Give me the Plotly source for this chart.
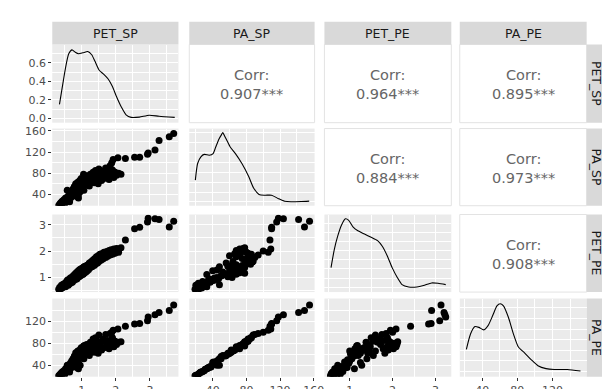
import plotly.graph_objects as go

W, H = 610, 389
VARS = ["PET_SP", "PA_SP", "PET_PE", "PA_PE"]

PET_SP = [3.70, 3.57, 3.27, 3.15, 2.95, 2.93, 2.70, 2.55, 2.28, 2.06, 1.92,
          0.32, 0.35, 0.38, 0.40, 0.42, 0.45, 0.47, 0.50, 0.52, 0.55, 0.57, 0.58, 0.60, 0.62, 0.64, 0.66, 0.68, 0.70,
          0.72, 0.74, 0.76, 0.78, 0.80, 0.82, 0.84, 0.86, 0.88, 0.90, 0.92, 0.94, 0.96, 0.98, 1.00, 1.02, 1.04, 1.06,
          1.08, 1.10, 1.12, 1.14, 0.85, 0.95, 1.05,
          1.16, 1.18, 1.20, 1.22, 1.25, 1.28, 1.30, 1.33, 1.36, 1.38, 1.40, 1.43, 1.46, 1.48, 1.50, 1.53, 1.56, 1.58,
          1.62, 1.65,
          1.70, 1.73, 1.76, 1.80, 1.83, 1.86, 1.90, 1.94, 1.98, 2.02, 2.08, 2.15, 1.88, 0.90]
PA_SP = [155, 149, 142, 124, 118, 116, 110, 110, 108, 109, 106,
         19, 22, 24, 20, 27, 25, 30, 23, 33, 28, 48, 35, 31, 38, 26, 42, 34, 45,
         37, 50, 41, 55, 44, 60, 47, 52, 63, 40, 58, 66, 50, 70, 55, 62, 68, 48,
         72, 58, 65, 75, 36, 45, 78,
         60, 68, 72, 56, 78, 64, 70, 82, 62, 75, 85, 68, 80, 60, 88, 72, 78, 66,
         84, 70,
         90, 76, 82, 68, 94, 78, 86, 72, 82, 76, 80, 78, 100, 33]
PET_PE = [3.13, 2.91, 3.20, 3.22, 3.24, 3.10, 2.90, 2.84, 2.42, 2.08, 1.95,
          0.55, 0.63, 0.57, 0.70, 0.60, 0.74, 0.66, 0.78, 0.65, 0.84, 0.72, 0.90, 0.70, 0.92, 0.76, 0.98, 0.80, 1.00,
          0.82, 1.05, 0.88, 1.10, 0.92, 1.16, 0.95, 1.20, 1.00, 1.25, 1.02, 1.30, 1.06, 1.33, 1.10, 1.36, 1.12, 1.40,
          1.18, 1.42, 1.20, 1.45, 0.94, 1.28, 1.16,
          1.25, 1.48, 1.30, 1.55, 1.38, 1.60, 1.40, 1.66, 1.45, 1.72, 1.50, 1.78, 1.55, 1.82, 1.60, 1.88, 1.65, 1.90,
          1.70, 1.95,
          1.75, 1.98, 1.80, 2.02, 1.85, 2.05, 1.88, 2.08, 1.92, 2.10, 1.95, 2.12, 2.00, 1.11]
PA_PE = [150, 140, 136, 132, 128, 121, 116, 115, 111, 106, 104,
         21, 23, 25, 22, 28, 27, 30, 24, 34, 29, 40, 36, 33, 37, 28, 44, 35, 48,
         38, 52, 46, 57, 42, 63, 50, 58, 66, 45, 60, 68, 56, 72, 58, 68, 70, 52,
         76, 62, 67, 78, 36, 40, 75,
         62, 74, 70, 58, 82, 66, 72, 88, 64, 78, 90, 70, 84, 62, 95, 75, 82, 68,
         88, 72,
         96, 78, 85, 70, 98, 80, 90, 74, 84, 78, 82, 83, 100, 34]
DATA = {"PET_SP": PET_SP, "PA_SP": PA_SP, "PET_PE": PET_PE, "PA_PE": PA_PE}

# ---- diagonal density curves ----
DENS_X = {
    "PET_SP": [0.342, 0.42, 0.516, 0.614, 0.71, 0.806, 0.903, 1.03, 1.174, 1.29, 1.386, 1.51, 1.647, 1.773,
               1.899, 2.014, 2.16, 2.30, 2.45, 2.69, 2.98, 3.27, 3.73],
    "PA_SP": [19.4, 22.1, 26, 30, 35.8, 40.5, 43.5, 47.5, 50.5, 52, 53.3, 56, 61, 67, 74.7, 82.6, 88.4, 95,
              102, 109.8, 117.6, 125.4, 133, 145, 154.6],
    "PET_PE": [0.564, 0.64, 0.716, 0.807, 0.90, 0.977, 1.076, 1.19, 1.344, 1.50, 1.65, 1.764, 1.88, 1.99,
               2.11, 2.22, 2.376, 2.566, 2.72, 2.91, 3.06, 3.24],
    "PA_PE": [22.1, 26.9, 31.8, 36.3, 41.9, 46.7, 52, 56.8, 60.5, 64.2, 69.8, 75.4, 81, 88.4, 95.9, 103.4,
              112.6, 121.9, 136.9, 151.7],
}
DENS_Y = {
    "PET_SP": [0.152, 0.328, 0.54, 0.70, 0.742, 0.717, 0.70, 0.71, 0.724, 0.689, 0.618, 0.522, 0.477, 0.427,
               0.346, 0.24, 0.124, 0.039, 0.011, 0.014, 0.035, 0.024, 0.011],
    "PA_SP": [0.0055, 0.0097, 0.0114, 0.0120, 0.0118, 0.0122, 0.0138, 0.0159, 0.0170, 0.0175, 0.0170, 0.0159,
              0.0138, 0.0122, 0.0097, 0.0065, 0.0036, 0.0019, 0.0017, 0.0017, 0.0009, 0.0002, 0.00005, 0.0001,
              0.0002],
    "PET_PE": [0.215, 0.412, 0.554, 0.68, 0.75, 0.733, 0.661, 0.618, 0.583, 0.547, 0.511, 0.447, 0.34, 0.215,
               0.107, 0.029, 0.002, 0.002, 0.018, 0.047, 0.043, 0.029],
    "PA_PE": [0.0052, 0.0089, 0.0106, 0.0104, 0.0098, 0.0108, 0.0132, 0.0155, 0.0160, 0.0155, 0.0128, 0.0089,
              0.0058, 0.0043, 0.0027, 0.0013, 0.0006, 0.0004, 0.0004, 0.00005],
}

# correlation labels (upper triangle, row-major)
CORR_LABELS = {(0, 1): "0.907***", (0, 2): "0.964***", (0, 3): "0.895***",
               (1, 2): "0.884***", (1, 3): "0.973***", (2, 3): "0.908***"}

# axis scales
VAR_RANGE_X = {"PET_SP": [0.13, 3.84], "PA_SP": [12.2, 161], "PET_PE": [0.41, 3.37], "PA_PE": [14.6, 158.7]}
VAR_RANGE_Y = {"PA_SP": [18.6, 164.4], "PET_PE": [0.444, 3.385], "PA_PE": [19.4, 161.6]}
MAJOR = {"PET_SP": [1, 2, 3], "PA_SP": [40, 80, 120, 160], "PET_PE": [1, 2, 3], "PA_PE": [40, 80, 120]}
MINOR = {"PET_SP": [0.5, 1.5, 2.5, 3.5], "PA_SP": [20, 60, 100, 140], "PET_PE": [0.5, 1.5, 2.5],
         "PA_PE": [20, 60, 100, 140]}
DENS_RANGE = {"PET_SP": [-0.046, 0.80], "PA_SP": [-0.00095, 0.01853], "PET_PE": [-0.053, 0.797],
              "PA_PE": [-0.0013, 0.01725]}
DENS_MAJOR = {"PET_SP": [0, 0.2, 0.4, 0.6], "PA_SP": [0, 0.005, 0.01, 0.015], "PET_PE": [0, 0.2, 0.4, 0.6],
              "PA_PE": [0, 0.005, 0.01, 0.015]}
DENS_MINOR = {"PET_SP": [0.1, 0.3, 0.5, 0.7], "PA_SP": [0.0025, 0.0075, 0.0125, 0.0175],
              "PET_PE": [0.1, 0.3, 0.5, 0.7], "PA_PE": [0.0025, 0.0075, 0.0125, 0.0175]}
DENS_TICKTEXT = ["0.0", "0.2", "0.4", "0.6"]

# layout geometry (pixels)
COLS_PX = [(45, 173.3), (184.3, 311.7), (321.7, 450.7), (459.3, 588.3)]
ROWS_PX = [(33.3, 113.3), (119.3, 198.3), (207.3, 286.7), (293.3, 373.3)]
STRIP_TOP = (10, 33.3)
STRIP_RIGHT = (588.3, 611)

FONT = "DejaVu Sans"
TICK_FONT = dict(family=FONT, size=11, color="#4D4D4D")


def fx(p):
    return p / W


def fy(p):
    return 1 - p / H


fig = go.Figure()
layout = dict(width=W, height=H, margin=dict(l=0, r=0, t=0, b=0), paper_bgcolor="white",
              plot_bgcolor="#EBEBEB", showlegend=False, font=dict(family=FONT), shapes=[], annotations=[])


def axis_cfg(domain, rng, major, minor, show_labels, anchor, ticktext=None):
    d = dict(domain=domain, range=rng, anchor=anchor, tickmode="array", tickvals=major,
             showgrid=True, gridcolor="white", gridwidth=1.1, zeroline=False, showline=False,
             minor=dict(tickmode="array", tickvals=minor, showgrid=True, gridcolor="white",
                        gridwidth=0.55, ticks=""),
             fixedrange=True)
    if show_labels:
        d.update(showticklabels=True, ticks="outside", ticklen=3, tickwidth=1, tickcolor="#333333",
                 tickfont=TICK_FONT)
        if ticktext is not None:
            d["ticktext"] = ticktext
    else:
        d.update(showticklabels=False, ticks="")
    return d


for r in range(4):
    for c in range(4):
        x0, x1 = COLS_PX[c]
        y0, y1 = ROWS_PX[r]
        if c > r:
            layout["shapes"].append(dict(type="rect", xref="paper", yref="paper", x0=fx(x0), x1=fx(x1),
                                         y0=fy(y1), y1=fy(y0), fillcolor="white",
                                         line=dict(color="#E3E3E3", width=1), layer="below"))
            layout["annotations"].append(dict(xref="paper", yref="paper", x=fx((x0 + x1) / 2),
                                              y=fy((y0 + y1) / 2 + 1), text="Corr:<br>" + CORR_LABELS[(r, c)],
                                              showarrow=False, font=dict(family=FONT, size=14.5, color="#666666"),
                                              xanchor="center", yanchor="middle", align="center"))
            continue
        k = r * 4 + c + 1
        xa = "xaxis" if k == 1 else f"xaxis{k}"
        ya = "yaxis" if k == 1 else f"yaxis{k}"
        xr = "x" if k == 1 else f"x{k}"
        yr = "y" if k == 1 else f"y{k}"
        vx = VARS[c]
        vy = VARS[r]
        layout[xa] = axis_cfg([fx(x0), fx(x1)], VAR_RANGE_X[vx], MAJOR[vx], MINOR[vx], r == 3, yr)
        if r == c:
            layout[ya] = axis_cfg([fy(y1), fy(y0)], DENS_RANGE[vx], DENS_MAJOR[vx], DENS_MINOR[vx],
                                  c == 0, xr, DENS_TICKTEXT if c == 0 else None)
            fig.add_trace(go.Scatter(x=DENS_X[vx], y=DENS_Y[vx], mode="lines", xaxis=xr, yaxis=yr,
                                     line=dict(color="black", width=1.1, shape="spline", smoothing=0.6),
                                     hoverinfo="skip"))
        else:
            layout[ya] = axis_cfg([fy(y1), fy(y0)], VAR_RANGE_Y[vy], MAJOR[vy], MINOR[vy], c == 0, xr)
            fig.add_trace(go.Scatter(x=DATA[vx], y=DATA[vy], mode="markers", xaxis=xr, yaxis=yr,
                                     marker=dict(color="black", size=7, line=dict(width=0)),
                                     hoverinfo="skip"))

# strips
for c, name in enumerate(VARS):
    x0, x1 = COLS_PX[c]
    layout["shapes"].append(dict(type="rect", xref="paper", yref="paper", x0=fx(x0), x1=fx(x1),
                                 y0=fy(STRIP_TOP[1]), y1=fy(STRIP_TOP[0]), fillcolor="#D9D9D9",
                                 line=dict(width=0), layer="below"))
    layout["annotations"].append(dict(xref="paper", yref="paper", x=fx((x0 + x1) / 2),
                                      y=fy((STRIP_TOP[0] + STRIP_TOP[1]) / 2), text=name, showarrow=False,
                                      font=dict(family=FONT, size=12.5, color="#1A1A1A"),
                                      xanchor="center", yanchor="middle"))
for r, name in enumerate(VARS):
    y0, y1 = ROWS_PX[r]
    layout["shapes"].append(dict(type="rect", xref="paper", yref="paper", x0=fx(STRIP_RIGHT[0]),
                                 x1=fx(STRIP_RIGHT[1]), y0=fy(y1), y1=fy(y0), fillcolor="#D9D9D9",
                                 line=dict(width=0), layer="below"))
    layout["annotations"].append(dict(xref="paper", yref="paper", x=fx(598.5), y=fy((y0 + y1) / 2),
                                      text=name, showarrow=False, textangle=90,
                                      font=dict(family=FONT, size=12.5, color="#1A1A1A"),
                                      xanchor="center", yanchor="middle"))

fig.update_layout(**layout)
fig.write_html("out.html")
